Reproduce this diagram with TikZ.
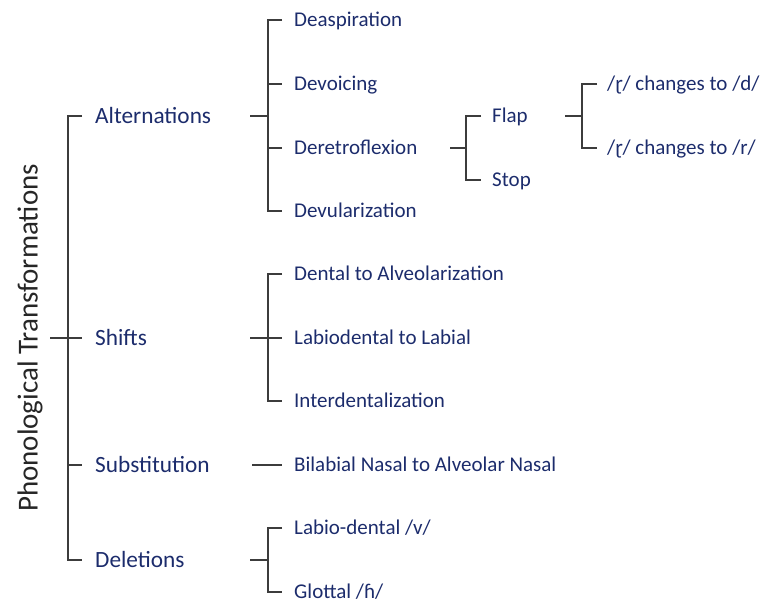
\documentclass[tikz,border=0pt]{standalone}
\usepackage{fontspec}
\setmainfont{Carlito}
\definecolor{navy}{RGB}{28,44,108}
\definecolor{linec}{RGB}{60,60,60}
\begin{document}
\begin{tikzpicture}[x=1pt,y=-1pt,
  lab/.style={anchor=west, inner sep=0pt, text height=13.6pt, text depth=0pt, text=navy, font=\fontsize{21}{24}\selectfont},
  toplab/.style={lab, text height=15pt, font=\fontsize{23.3}{26}\selectfont},
  conn/.style={draw=linec, line width=1.3pt}]
\useasboundingbox (0,0) rectangle (761,599);
% title
\node[rotate=90, inner sep=0pt, text=black!85, font=\fontsize{29}{32}\selectfont] (root) at (30,338) {Phonological Transformations};
% level 1
\node[toplab] (alt) at (95,116) {Alternations};
\node[toplab] (shf) at (95,338) {Shifts};
\node[toplab] (sub) at (95,465) {Substitution};
\node[toplab] (del) at (95,560) {Deletions};
% level 2
\node[lab] (deasp) at (294,20) {Deaspiration};
\node[lab] (devoi) at (294,84) {Devoicing};
\node[lab] (deret) at (294,148) {Deretroflexion};
\node[lab] (devul) at (294,211) {Devularization};
\node[lab] (dent) at (294,274) {Dental to Alveolarization};
\node[lab] (labd) at (294,338) {Labiodental to Labial};
\node[lab] (intd) at (294,401) {Interdentalization};
\node[lab] (bila) at (294,465) {Bilabial Nasal to Alveolar Nasal};
\node[lab] (labv) at (294,528) {Labio-dental /v/};
\node[lab] (glot) at (294,592) {Glottal /ɦ/};
% level 3
\node[lab] (flap) at (492,116) {Flap};
\node[lab] (stop) at (492,180) {Stop};
% level 4
\node[lab] (chd) at (607,84) {/ɽ/ changes to /d/};
\node[lab] (chr) at (607,148) {/ɽ/ changes to /r/};
% junction coordinates
\coordinate (rj) at (68,338);
\coordinate (aj) at (268,116);
\coordinate (sj) at (268,338);
\coordinate (dj) at (268,560);
\coordinate (ej) at (466,148);
\coordinate (fj) at (582,116);
% root bracket
\draw[conn] (50,338) -- (rj);
\draw[conn] ([xshift=-13pt]alt.west) -| (rj |- del.west) -- ([xshift=-13pt]del.west);
\draw[conn] (rj |- shf.west) -- ([xshift=-13pt]shf.west);
\draw[conn] (rj |- sub.west) -- ([xshift=-13pt]sub.west);
% alternations
\draw[conn] ([xshift=-18pt]aj) -- (aj);
\draw[conn] ([xshift=-12pt]deasp.west) -| (aj |- devul.west) -- ([xshift=-12pt]devul.west);
\draw[conn] (aj |- devoi.west) -- ([xshift=-12pt]devoi.west);
\draw[conn] (aj |- deret.west) -- ([xshift=-12pt]deret.west);
% deretroflexion
\draw[conn] ([xshift=-16pt]ej) -- (ej);
\draw[conn] ([xshift=-11pt]flap.west) -| (ej |- stop.west) -- ([xshift=-11pt]stop.west);
% flap
\draw[conn] ([xshift=-17pt]fj) -- (fj);
\draw[conn] ([xshift=-10pt]chd.west) -| (fj |- chr.west) -- ([xshift=-10pt]chr.west);
% shifts
\draw[conn] ([xshift=-18pt]sj) -- (sj);
\draw[conn] ([xshift=-12pt]dent.west) -| (sj |- intd.west) -- ([xshift=-12pt]intd.west);
\draw[conn] (sj |- labd.west) -- ([xshift=-12pt]labd.west);
% substitution
\draw[conn] ([xshift=-42pt]bila.west) -- ([xshift=-12pt]bila.west);
% deletions
\draw[conn] ([xshift=-18pt]dj) -- (dj);
\draw[conn] ([xshift=-12pt]labv.west) -| (dj |- glot.west) -- ([xshift=-12pt]glot.west);
\end{tikzpicture}
\end{document}
